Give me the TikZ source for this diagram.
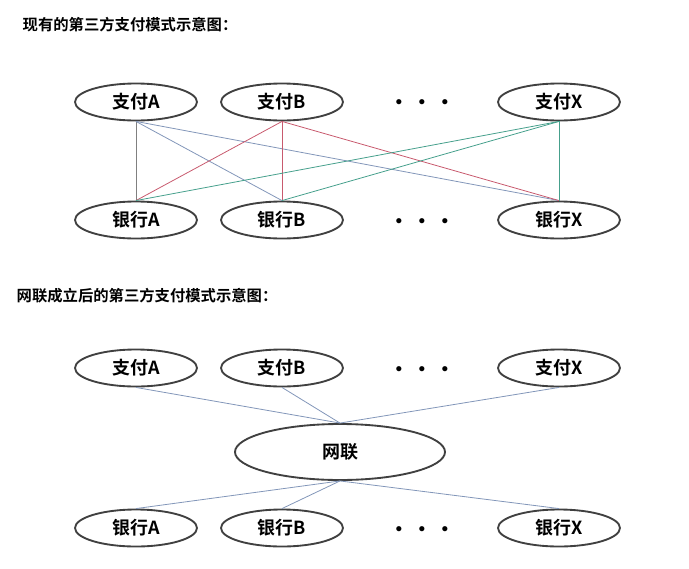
\documentclass[tikz,border=0pt]{standalone}
\usepackage{fontspec}
\setmainfont{Noto Sans CJK SC}[BoldFont={Noto Sans CJK SC Bold}]
\usetikzlibrary{shapes.geometric}
\definecolor{lb}{RGB}{130,150,185}
\definecolor{lr}{RGB}{200,90,110}
\definecolor{lg}{RGB}{70,160,140}
\begin{document}
\begin{tikzpicture}[x=0.75pt,y=-0.75pt,
  ov/.style={ellipse,draw=black!75,line width=1.4pt,minimum width=122*0.75pt,minimum height=37*0.75pt,inner sep=0pt,font=\bfseries\fontsize{13.5}{13.5}\selectfont},
  ln/.style={line width=0.6pt},
  ttl/.style={anchor=west,font=\bfseries\fontsize{11.5}{11.5}\selectfont},
  dots/.style={font=\bfseries\fontsize{10}{10}\selectfont}]
\useasboundingbox (0,0) rectangle (689,568);
\node[ttl] (t1) at (18,25) {现有的第三方支付模式示意图：};
\node[ov] (pa) at (136,102) {支付A};
\node[ov] (pb) at (282,102) {支付B};
\node[dots] (d1) at (422,103) {$\bullet\quad\bullet\quad\bullet$};
\node[ov] (px) at (559,102) {支付X};
\node[ov] (ba) at (136,220) {银行A};
\node[ov] (bb) at (282,220) {银行B};
\node[dots] (d2) at (422,222) {$\bullet\quad\bullet\quad\bullet$};
\node[ov] (bx) at (559,220) {银行X};
\begin{scope}[ln]
\draw[gray] (pa.south) -- (ba.north);
\draw[lb] (pa.south) -- (bb.north);
\draw[lb] (pa.south) -- (bx.north);
\draw[lr] (pb.south) -- (ba.north);
\draw[lr] (pb.south) -- (bb.north);
\draw[lr] (pb.south) -- (bx.north);
\draw[lg] (px.south) -- (ba.north);
\draw[lg] (px.south) -- (bb.north);
\draw[lg] (px.south) -- (bx.north);
\end{scope}
\node[ttl] (t2) at (12,296) {网联成立后的第三方支付模式示意图：};
\node[ov] (qa) at (136,368) {支付A};
\node[ov] (qb) at (282,368) {支付B};
\node[dots] (d3) at (422,370) {$\bullet\quad\bullet\quad\bullet$};
\node[ov] (qx) at (559,368) {支付X};
\node[ov,minimum width=210*0.75pt,minimum height=56*0.75pt] (wl) at (340,452) {网联};
\node[ov] (ca) at (136,528) {银行A};
\node[ov] (cb) at (282,528) {银行B};
\node[dots] (d4) at (422,530) {$\bullet\quad\bullet\quad\bullet$};
\node[ov] (cx) at (559,528) {银行X};
\begin{scope}[ln,lb]
\draw (qa.south) -- (wl.north);
\draw (qb.south) -- (wl.north);
\draw (qx.south) -- (wl.north);
\draw (wl.south) -- (ca.north);
\draw (wl.south) -- (cb.north);
\draw (wl.south) -- (cx.north);
\end{scope}
\end{tikzpicture}
\end{document}
